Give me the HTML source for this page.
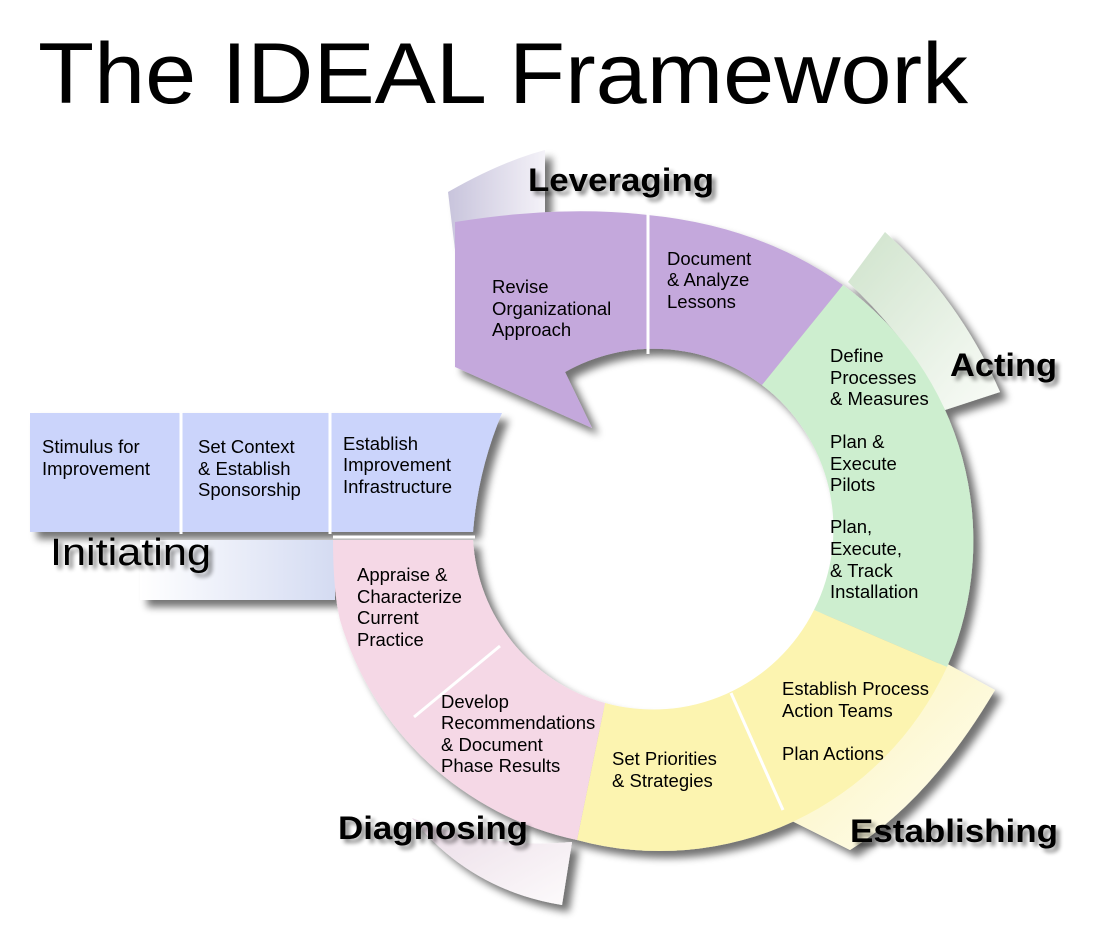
<!DOCTYPE html>
<html><head><meta charset="utf-8"><style>
html,body{margin:0;padding:0;background:#fff;}
svg{display:block;font-family:"Liberation Sans",Arial,sans-serif;}
.s{font-size:18.5px;fill:#000;}
.b{font-size:32px;font-weight:bold;fill:#000;}
</style></head><body>
<svg width="1105" height="933" viewBox="0 0 1105 933" xmlns="http://www.w3.org/2000/svg">
<defs>
<filter id="sh" x="-20%" y="-20%" width="140%" height="140%">
<feGaussianBlur in="SourceAlpha" stdDeviation="4"/>
<feOffset dx="7" dy="7" result="o"/>
<feComponentTransfer><feFuncA type="linear" slope="0.55"/></feComponentTransfer>
<feMerge><feMergeNode/><feMergeNode in="SourceGraphic"/></feMerge>
</filter>
<filter id="ts"><feGaussianBlur in="SourceAlpha" stdDeviation="2"/><feOffset dx="4" dy="4"/><feComponentTransfer><feFuncA type="linear" slope="0.45"/></feComponentTransfer><feMerge><feMergeNode/><feMergeNode in="SourceGraphic"/></feMerge></filter>
<linearGradient id="gl" x1="0" y1="0" x2="1" y2="0"><stop offset="0" stop-color="#c8c4dc"/><stop offset="1" stop-color="#f4f2f8"/></linearGradient>
<linearGradient id="ga" x1="0" y1="0" x2="1" y2="1"><stop offset="0" stop-color="#cfe3cc"/><stop offset="1" stop-color="#fafcf8"/></linearGradient>
<linearGradient id="ge" x1="0" y1="0" x2="1" y2="1"><stop offset="0" stop-color="#fbf3b8"/><stop offset="1" stop-color="#fffef4"/></linearGradient>
<linearGradient id="gd" x1="0" y1="0" x2="1" y2="1"><stop offset="0" stop-color="#eadbe6"/><stop offset="1" stop-color="#fdfbfc"/></linearGradient>
<linearGradient id="gi" x1="0" y1="0" x2="1" y2="0"><stop offset="0" stop-color="#ffffff"/><stop offset="1" stop-color="#d4dbf2"/></linearGradient>
</defs>

<text x="38" y="103" font-size="86" textLength="930" lengthAdjust="spacingAndGlyphs">The IDEAL Framework</text>

<g filter="url(#sh)">
<!-- ghost bands -->
<path d="M455,250 L448,192 Q500,162 545,150 L545,225 Z" fill="url(#gl)"/>
<path d="M848,282 L885,232 Q960,300 1000,392 L945,410 Q910,340 848,282 Z" fill="url(#ga)"/>
<path d="M940,660 L995,690 Q930,800 850,850 L790,820 Q890,760 940,660 Z" fill="url(#ge)"/>
<path d="M412,818 Q490,850 572,842 L562,905 Q470,890 412,818 Z" fill="url(#gd)"/>
<path d="M140,540 L335,540 L335,600 L140,600 Z" fill="url(#gi)"/>

<!-- purple -->
<path d="M455,222 Q560,205 648,215 Q760,226 843,285 L762,385 A180,180 0 0 0 565,372 L592,428 L455,367 Z" fill="#c4a8dc"/>
<!-- green -->
<path d="M843,285 A316,316 0 0 1 947,667 L814,610 A180,180 0 0 0 762,385 Z" fill="#cdeecf"/>
<!-- yellow -->
<path d="M947,667 A316,316 0 0 1 577,840 L605,703 A180,180 0 0 0 814,610 Z" fill="#fcf4b0"/>
<!-- pink -->
<path d="M577,840 A316,316 0 0 1 340,620 Q333,590 333,540 L473,540 A180,180 0 0 0 605,703 Z" fill="#f5d8e6"/>
<!-- blue -->
<path d="M30,413 L502,413 Q478,470 473,532 L30,532 Z" fill="#cbd4fb"/>
</g>

<!-- dividers -->
<g stroke="#fff" stroke-width="3" fill="none">
<line x1="648" y1="213" x2="648" y2="354"/>
<line x1="181" y1="411" x2="181" y2="534"/>
<line x1="330" y1="411" x2="330" y2="534"/>
<line x1="500" y1="646" x2="414" y2="717"/>
<line x1="731" y1="693" x2="783" y2="810"/>
<line x1="333" y1="537" x2="475" y2="537"/>
</g>

<g class="s">
<text x="42" y="453">Stimulus for</text><text x="42" y="475">Improvement</text>
<text x="198" y="453">Set Context</text><text x="198" y="475">&amp; Establish</text><text x="198" y="496">Sponsorship</text>
<text x="343" y="450">Establish</text><text x="343" y="471">Improvement</text><text x="343" y="493">Infrastructure</text>
<text x="492" y="293">Revise</text><text x="492" y="315">Organizational</text><text x="492" y="336">Approach</text>
<text x="667" y="265">Document</text><text x="667" y="286">&amp; Analyze</text><text x="667" y="308">Lessons</text>
<text x="830" y="362">Define</text><text x="830" y="384">Processes</text><text x="830" y="405">&amp; Measures</text>
<text x="830" y="448">Plan &amp;</text><text x="830" y="470">Execute</text><text x="830" y="491">Pilots</text>
<text x="830" y="533">Plan,</text><text x="830" y="555">Execute,</text><text x="830" y="577">&amp; Track</text><text x="830" y="598">Installation</text>
<text x="357" y="581">Appraise &amp;</text><text x="357" y="603">Characterize</text><text x="357" y="624">Current</text><text x="357" y="646">Practice</text>
<text x="441" y="708">Develop</text><text x="441" y="729">Recommendations</text><text x="441" y="751">&amp; Document</text><text x="441" y="772">Phase Results</text>
<text x="612" y="765">Set Priorities</text><text x="612" y="787">&amp; Strategies</text>
<text x="782" y="695">Establish Process</text><text x="782" y="717">Action Teams</text><text x="782" y="760">Plan Actions</text>
</g>

<g filter="url(#ts)">
<text class="b" x="528" y="191" textLength="186" lengthAdjust="spacingAndGlyphs">Leveraging</text>
<text class="b" x="950" y="376" textLength="107" lengthAdjust="spacingAndGlyphs">Acting</text>
<text class="b" x="338" y="839" textLength="190" lengthAdjust="spacingAndGlyphs">Diagnosing</text>
<text class="b" x="850" y="842" textLength="208" lengthAdjust="spacingAndGlyphs">Establishing</text>
<text x="50" y="565" font-size="38" textLength="161" lengthAdjust="spacingAndGlyphs">Initiating</text>
</g>
</svg>
</body></html>
